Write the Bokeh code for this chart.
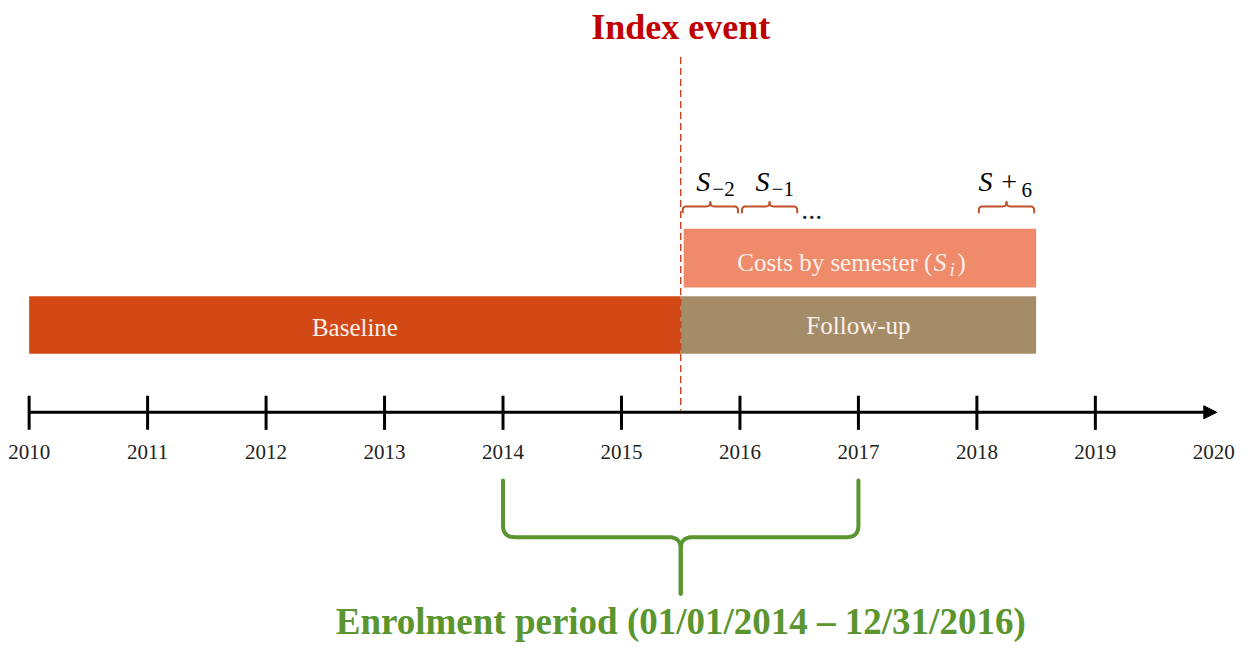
import numpy as np
from bokeh.plotting import figure
from bokeh.models import Range1d, Arrow, NormalHead
from bokeh.core.properties import value
from bokeh.embed import file_html
from bokeh.resources import INLINE

# ---- data ----
axis_years = [2010, 2011, 2012, 2013, 2014, 2015, 2016, 2017, 2018, 2019]
label_years = [2010, 2011, 2012, 2013, 2014, 2015, 2016, 2017, 2018, 2019, 2020]
year_labels = [str(y) for y in label_years]

period_names = ["Baseline", "Follow-up"]
period_start = [2010.0, 2015.5]
period_end = [2015.5, 2018.5]

costs_start = 2015.5
costs_end = 2018.5

semester_start = [2015.5, 2016.0, 2018.0]
semester_end = [2016.0, 2016.5, 2018.5]
semester_sub = ["\u22122", "\u22121", "6"]

index_event = 2015.5
enrol_start = 2014.0
enrol_end = 2017.0

SERIF = value("Liberation Serif")
PX = 120.0  # layout pixels per year
X0 = 2010 - 29 / PX

p = figure(width=1239, height=646, output_backend="svg", toolbar_location=None,
           x_range=Range1d(X0, X0 + 1255 / PX),
           y_range=Range1d(662, 0), x_axis_location=None, y_axis_location=None,
           min_border=0)
p.grid.visible = False
p.outline_line_color = None
p.background_fill_color = "white"

# bars
colors = ["#D24916", "#A48C69"]
p.quad(left=period_start, right=period_end, top=[303, 303], bottom=[362, 362],
       fill_color=colors, line_color=None)
p.quad(left=[costs_start + 3 / PX], right=[costs_end], top=[234], bottom=[294],
       fill_color="#EF8B6B", line_color=None)

mid = [(a + b) / 2 for a, b in zip(period_start, period_end)]
p.text(x=mid, y=[335, 333], text=period_names, text_color="#FCF1EA",
       text_font=SERIF, text_font_size="25px", text_align="center",
       text_baseline="middle")

# costs label
cmid = (costs_start + costs_end) / 2
p.text(x=[cmid], y=[268], text=["Costs by semester ("], x_offset=[74],
       text_color="#FCF1EA", text_font=SERIF, text_font_size="25px",
       text_align="right", text_baseline="middle")
p.text(x=[cmid], y=[268], text=["S"], x_offset=[75], text_color="#FCF1EA",
       text_font=SERIF, text_font_size="26px", text_font_style="italic",
       text_align="left", text_baseline="middle")
p.text(x=[cmid], y=[276], text=["i"], x_offset=[91], text_color="#FCF1EA",
       text_font=SERIF, text_font_size="19px", text_font_style="italic",
       text_align="left", text_baseline="middle")
p.text(x=[cmid], y=[268], text=[")"], x_offset=[99], text_color="#FCF1EA",
       text_font=SERIF, text_font_size="25px", text_align="left",
       text_baseline="middle")

# index event dashed line
p.segment(x0=[index_event], x1=[index_event], y0=[58], y1=[420],
          line_color="#C4472A", line_width=1.5, line_dash="7 4")
p.text(x=[index_event], y=[27], text=["Index event"], text_color="#C00000",
       text_font=SERIF, text_font_size="36px", text_font_style="bold",
       text_align="center", text_baseline="middle")

# timeline axis
p.add_layout(Arrow(end=NormalHead(size=13, fill_color="black", line_color="black"),
                   x_start=2010, x_end=2020 + 3 / PX, y_start=422, y_end=422,
                   line_width=3, line_color="black"))
p.segment(x0=axis_years, x1=axis_years, y0=[405] * len(axis_years),
          y1=[440] * len(axis_years), line_color="black", line_width=3)
p.text(x=label_years, y=[463] * len(label_years), text=year_labels,
       text_color="#222222", text_font=SERIF, text_font_size="21px",
       text_align="center", text_baseline="middle")


def brace(x0, x1, y_end, y_mid, y_tip, rx_px, ry):
    """Return two half-brace polylines (lists of xs, ys)."""
    xc = (x0 + x1) / 2
    rx = rx_px / PX
    s = 1 if y_mid > y_end else -1
    t = np.linspace(0, 1, 12)
    halves = []
    for side in (1, -1):
        xa = x0 if side == 1 else x1
        xs, ys = [xa], [y_end]
        P0 = (xa, y_mid - s * ry)
        C = (xa, y_mid)
        P2 = (xa + side * rx, y_mid)
        xs += list((1 - t) ** 2 * P0[0] + 2 * (1 - t) * t * C[0] + t ** 2 * P2[0])
        ys += list((1 - t) ** 2 * P0[1] + 2 * (1 - t) * t * C[1] + t ** 2 * P2[1])
        P0 = (xc - side * rx, y_mid)
        C = (xc, y_mid)
        P2 = (xc, y_mid + s * ry)
        xs += list((1 - t) ** 2 * P0[0] + 2 * (1 - t) * t * C[0] + t ** 2 * P2[0])
        ys += list((1 - t) ** 2 * P0[1] + 2 * (1 - t) * t * C[1] + t ** 2 * P2[1])
        xs.append(xc)
        ys.append(y_tip)
        halves.append((xs, ys))
    return halves


# enrolment brace
h = brace(enrol_start, enrol_end, 492, 550, 608, 12, 12)
p.multi_line(xs=[a[0] for a in h], ys=[a[1] for a in h], line_color="#5A9530",
             line_width=4, line_cap="round", line_join="round")
p.text(x=[(enrol_start + enrol_end) / 2], y=[636],
       text=["Enrolment period (01/01/2014 \u2013 12/31/2016)"], text_color="#5A9530",
       text_font=SERIF, text_font_size="37px", text_font_style="bold",
       text_align="center", text_baseline="middle")

# semester braces
bx, by = [], []
for a, b in zip(semester_start, semester_end):
    for xs, ys in brace(a + 2 / PX, b - 2 / PX, 218, 211, 206, 4, 4):
        bx.append(xs)
        by.append(ys)
p.multi_line(xs=bx, ys=by, line_color="#C0502A", line_width=2)

p.text(x=[semester_end[1]], y=[215], text=["..."], x_offset=[2],
       text_color="#222222", text_font=SERIF, text_font_size="28px",
       text_align="left", text_baseline="alphabetic")

sc = [(a + b) / 2 for a, b in zip(semester_start, semester_end)]
# S_-2, S_-1
for i in range(2):
    p.text(x=[sc[i]], y=[185], text=["S"], x_offset=[0], text_color="black",
           text_font=SERIF, text_font_size="28px", text_font_style="italic",
           text_align="right", text_baseline="middle")
    p.text(x=[sc[i]], y=[193], text=[semester_sub[i]], x_offset=[2],
           text_color="black", text_font=SERIF, text_font_size="21px",
           text_align="left", text_baseline="middle")
# S +6
p.text(x=[sc[2]], y=[185], text=["S +"], x_offset=[12], text_color="black",
       text_font=SERIF, text_font_size="28px", text_font_style="italic",
       text_align="right", text_baseline="middle")
p.text(x=[sc[2]], y=[194], text=[semester_sub[2]], x_offset=[15],
       text_color="black", text_font=SERIF, text_font_size="21px",
       text_align="left", text_baseline="middle")

open("out.html", "w").write(file_html(p, INLINE))
